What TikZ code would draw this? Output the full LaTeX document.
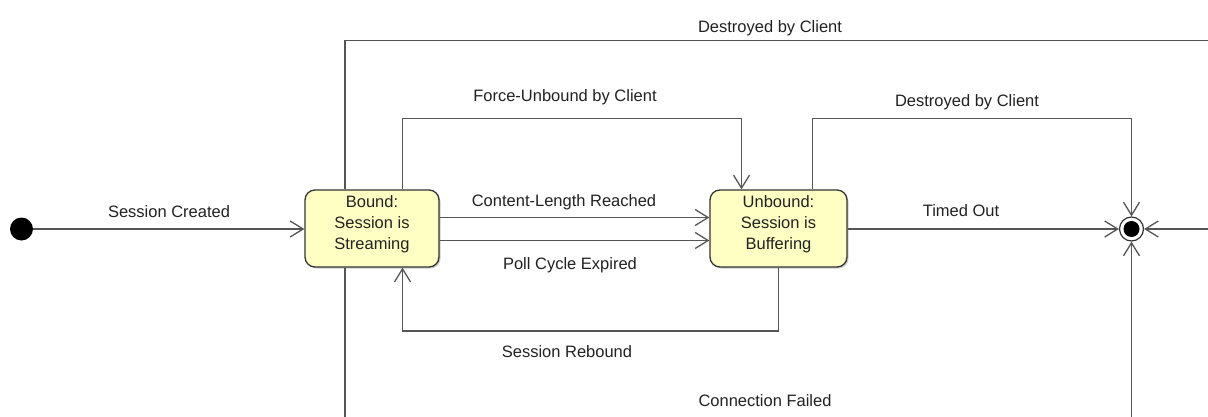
\documentclass[tikz,border=0pt]{standalone}
\usepackage{fontspec}
\setmainfont{Liberation Sans}
\usetikzlibrary{arrows.meta,shadows}

\definecolor{wire}{HTML}{555555}
\definecolor{ink}{HTML}{222222}
\definecolor{statefill}{HTML}{FFFFC4}
\definecolor{stateline}{HTML}{333333}

\tikzset{
  wire/.style={draw=wire, line width=1.4pt},
  arr/.style={wire, -{Straight Barb[length=13pt,width=16pt,line width=1.3pt]}},
  statebox/.style={draw=stateline, line width=1.3pt, fill=statefill,
    rounded corners=10pt, minimum width=134pt, minimum height=77pt,
    drop shadow={shadow xshift=1.5pt, shadow yshift=-1.5pt, opacity=0.2, fill=black}},
  statetext/.style={text=ink, align=center, inner sep=0pt,
    font=\fontsize{16.5}{21}\selectfont},
  lbl/.style={text=ink, inner sep=0pt, anchor=base,
    font=\fontsize{16.5}{20}\selectfont},
}

\begin{document}
\begin{tikzpicture}[x=1pt, y=-1pt]
\useasboundingbox (0,0) rectangle (1208,417);
\clip (0,0) rectangle (1208,417);
\fill[white] (0,0) rectangle (1208,417);

% states
\node[circle, fill=black, inner sep=0pt, minimum size=23pt] (init) at (21.5,229) {};
\node[statebox] (bound) at (372,228.5) {};
\node[statetext] (boundtxt) at ([yshift=4pt]bound.center) {Bound:\\Session is\\Streaming};
\node[statebox, minimum width=137pt] (unbound) at (778.5,228.5) {};
\node[statetext] (unboundtxt) at ([yshift=4pt]unbound.center) {Unbound:\\Session is\\Buffering};
\node[circle, draw=stateline, line width=1.2pt, fill=white, inner sep=0pt, minimum size=24pt] (final) at (1131.5,229) {};
\node[circle, fill=black, inner sep=0pt, minimum size=16pt] (finaldot) at (final.center) {};

% routing points
\coordinate (tl) at (345,40.5);
\coordinate (tr) at (1260,40.5);
\coordinate (fuL) at (402.5,118.5);
\coordinate (fuR) at (741.5,118.5);
\coordinate (dcL) at (812.5,118.5);
\coordinate (dcR) at (1131.5,118.5);
\coordinate (sr) at (402.5,331);
\coordinate (bl) at (345,450);
\coordinate (br) at (1131.5,450);

% transitions
\draw[arr] (init) -- (bound.west |- init);
\draw[arr] (tl |- bound.north) -- (tl) -- (tr) -- (tr |- final) -- (final);
\draw[arr] (fuL |- bound.north) -- (fuL) -- (fuR) -- (fuR |- unbound.north);
\draw[arr] (dcL |- unbound.north) -- (dcL) -- (dcR) -- (final);
\draw[arr] ([yshift=11pt]bound.east) -- ([yshift=11pt]unbound.west);
\draw[arr] ([yshift=-12pt]bound.east) -- ([yshift=-12pt]unbound.west);
\draw[arr] (unbound.east |- final) -- (final);
\draw[arr] (unbound.south) -- (unbound.south |- sr) -- (sr) -- (sr |- bound.south);
\draw[arr] (bl |- bound.south) -- (bl) -- (br) -- (final);

% transition labels
\node[lbl] (lcreated) at (169,218) {Session Created};
\node[lbl] (ldestroyA) at (770,33) {Destroyed by Client};
\node[lbl] (lforce) at (565,102) {Force-Unbound by Client};
\node[lbl] (ldestroyB) at (967,107) {Destroyed by Client};
\node[lbl] (lcontent) at (564,207) {Content-Length Reached};
\node[lbl] (lpoll) at (570,269) {Poll Cycle Expired};
\node[lbl] (ltimed) at (961,216) {Timed Out};
\node[lbl] (lrebound) at (567,357) {Session Rebound};
\node[lbl] (lfailed) at (765,406) {Connection Failed};
\end{tikzpicture}
\end{document}
